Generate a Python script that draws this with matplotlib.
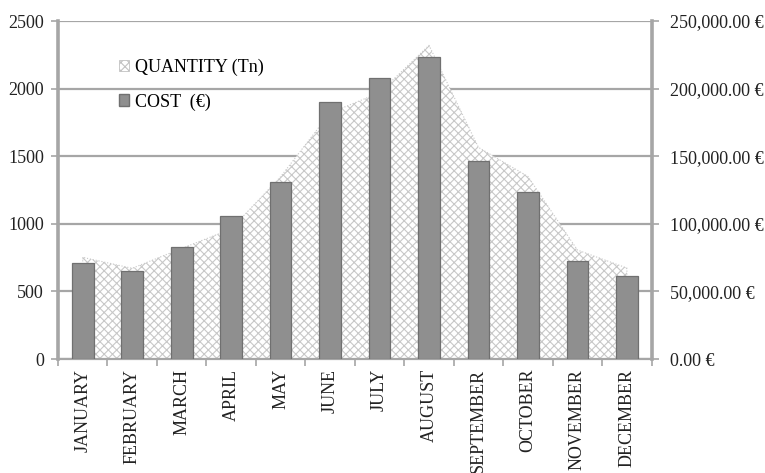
import matplotlib.pyplot as plt
import matplotlib.patches as mpatches
from matplotlib.ticker import FuncFormatter, FixedLocator
import numpy as np

plt.rcParams['font.family'] = ['Liberation Serif', 'DejaVu Serif']
plt.rcParams['hatch.linewidth'] = 0.8

months = ['JANUARY', 'FEBRUARY', 'MARCH', 'APRIL', 'MAY', 'JUNE', 'JULY',
          'AUGUST', 'SEPTEMBER', 'OCTOBER', 'NOVEMBER', 'DECEMBER']
quantity = [752, 671, 818, 962, 1348, 1820, 1970, 2320, 1565, 1350, 806, 673]
cost = [70800, 65300, 82600, 105800, 131100, 190300, 207600, 223600,
        146700, 123300, 72500, 61400]

grid_col = '#a6a6a6'
fs = 13

fig = plt.figure(figsize=(7.65, 4.73), dpi=100)
ax = fig.add_axes([0.0758, 0.241, 0.776, 0.7146])
x = np.arange(len(months))

# area (left axis)
ax.fill_between(x, 0, quantity, facecolor='white', edgecolor='#c8c8c8',
                hatch='xxxx', linewidth=0.8, linestyle=':', zorder=2)
ax.set_ylim(0, 2500)
ax.set_xlim(-0.5, len(months) - 0.5)
ax.set_yticks(np.arange(0, 2501, 500))
ax.yaxis.grid(True, color=grid_col, linewidth=1.6)
ax.set_axisbelow(True)

# bars (right axis)
ax2 = ax.twinx()
ax2.bar(x, cost, width=0.44, color='#8f8f8f', edgecolor='#707070',
        linewidth=0.9, zorder=3)
ax2.set_ylim(0, 250000)
ax2.set_yticks(np.arange(0, 250001, 50000))
ax2.yaxis.set_major_formatter(FuncFormatter(lambda v, p: '{:,.2f} \u20ac'.format(v)))

for a in (ax, ax2):
    for s in a.spines.values():
        s.set_color(grid_col)
    a.spines['top'].set_visible(False)
    a.tick_params(axis='y', colors='#222222', labelsize=fs, length=5,
                  width=1.2, color=grid_col)
ax.spines['left'].set_linewidth(2.6)
ax.spines['bottom'].set_linewidth(1.6)
ax2.spines['right'].set_linewidth(2.6)
ax2.spines['left'].set_visible(False)
ax2.spines['bottom'].set_visible(False)
ax.tick_params(axis='y', pad=5)
ax2.tick_params(axis='y', pad=8)

# x labels at centers, tick marks at boundaries
ax.set_xticks(x)
ax.set_xticklabels(months, rotation=90, fontsize=fs, color='#222222')
ax.tick_params(axis='x', which='major', length=0, pad=7)
ax.xaxis.set_minor_locator(FixedLocator(np.arange(-0.5, len(months), 1.0)))
ax.tick_params(axis='x', which='minor', length=5, width=1.2, color=grid_col)

h1 = mpatches.Patch(facecolor='white', edgecolor='#c2c2c2', hatch='xxxx', linewidth=0.6)
h2 = mpatches.Patch(facecolor='#8f8f8f', edgecolor='#707070')
ax.legend([h1, h2], ['QUANTITY (Tn)', 'COST  (\u20ac)'], loc='upper left',
          bbox_to_anchor=(0.087, 0.915), frameon=False, fontsize=fs,
          handlelength=0.6, handleheight=0.6, handletextpad=0.3,
          labelspacing=0.95, borderpad=0)

fig.savefig('out.png', dpi=100)
